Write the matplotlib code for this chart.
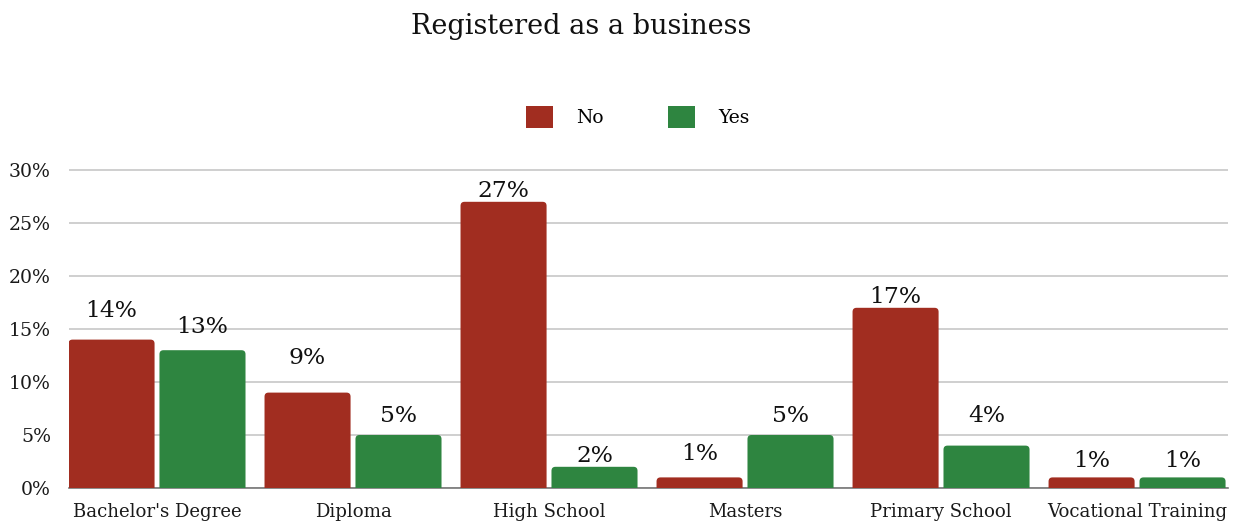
import matplotlib
matplotlib.use("Agg")
import matplotlib.pyplot as plt
from matplotlib.patches import FancyBboxPatch, Patch
import numpy as np

categories = ["Bachelor's Degree", "Diploma", "High School", "Masters",
              "Primary School", "Vocational Training"]
no_values = [14, 9, 27, 1, 17, 1]
yes_values = [13, 5, 2, 5, 4, 1]
series_names = ["No", "Yes"]
y_ticks = [0, 5, 10, 15, 20, 25, 30]

RED = "#a12d20"
GREEN = "#2e8540"

W, H, DPI = 1239, 525, 100
fig = plt.figure(figsize=(W / DPI, H / DPI), dpi=DPI)
plt.rcParams["font.family"] = ["DejaVu Serif"]

# axes geometry in pixels
left_px, right_px, zero_px = 69, 1228, 488
px_per_unit = 10.6
y_top = 30.6
top_px = zero_px - y_top * px_per_unit
ax = fig.add_axes([left_px / W, (H - zero_px) / H,
                   (right_px - left_px) / W, (zero_px - top_px) / H])

x = np.arange(len(categories))
bw = 0.439
off = 0.232
ax.set_xlim(-0.449, 5.464)
ax.set_ylim(0, y_top)

bars_no = ax.bar(x - off, no_values, width=bw, color=RED, zorder=3)
bars_yes = ax.bar(x + off, yes_values, width=bw, color=GREEN, zorder=3)

# round the top corners: swap each rectangle for a rounded box that
# reaches below the baseline (clipped by the axes)
x_unit_px = (right_px - left_px) / (5.464 + 0.449)
aspect = x_unit_px / px_per_unit
r = 4 / x_unit_px
for bars, col in ((bars_no, RED), (bars_yes, GREEN)):
    for rect in bars:
        rect.set_visible(False)
        x0, w, h = rect.get_x(), rect.get_width(), rect.get_height()
        fb = FancyBboxPatch((x0 + r, -2 + r * aspect), w - 2 * r,
                            h + 2 - 2 * r * aspect,
                            boxstyle=f"round,pad={r},rounding_size={r}",
                            mutation_aspect=aspect, facecolor=col,
                            edgecolor="none", zorder=3)
        ax.add_patch(fb)

# value labels (gap above bar top in pixels)
no_gaps = [23, 29, 5, 17, 5, 10]
yes_gaps = [17, 13, 5, 13, 24, 10]
for xs, vals, gaps in ((x - off, no_values, no_gaps),
                       (x + off, yes_values, yes_gaps)):
    for xi, v, g in zip(xs, vals, gaps):
        ax.annotate(f"{v}%", xy=(xi, v), xytext=(0, g * 72 / DPI),
                    textcoords="offset points", ha="center", va="baseline",
                    fontsize=16.8, color="#111111", zorder=4)

ax.set_yticks(y_ticks)
ax.set_yticklabels([f"{t}%" for t in y_ticks])
ax.set_xticks(x)
ax.set_xticklabels(categories)
ax.tick_params(axis="y", length=0, pad=13, labelsize=13.6, labelcolor="#1a1a1a")
ax.tick_params(axis="x", length=0, pad=11, labelsize=13.1, labelcolor="#1a1a1a")

ax.grid(axis="y", color="#cccccc", linewidth=1.3, zorder=0)
ax.set_axisbelow(True)
for s in ("top", "right", "left"):
    ax.spines[s].set_visible(False)
ax.spines["bottom"].set_color("#777777")
ax.spines["bottom"].set_linewidth(1.2)
ax.spines["bottom"].set_zorder(2)

fig.text(581 / W, 1 - 27 / H, "Registered as a business", ha="center",
         va="center", fontsize=19.5, color="#111111")

handles = [Patch(facecolor=RED, edgecolor="none"),
           Patch(facecolor=GREEN, edgecolor="none")]
fig.legend(handles, series_names, loc="center", ncol=2,
           bbox_to_anchor=(638 / W, 1 - 117 / H), frameon=False,
           fontsize=13.5, handlelength=1.4, handleheight=1.4,
           handletextpad=1.25, columnspacing=3.45)

fig.savefig("out.png", dpi=DPI, facecolor="white")
